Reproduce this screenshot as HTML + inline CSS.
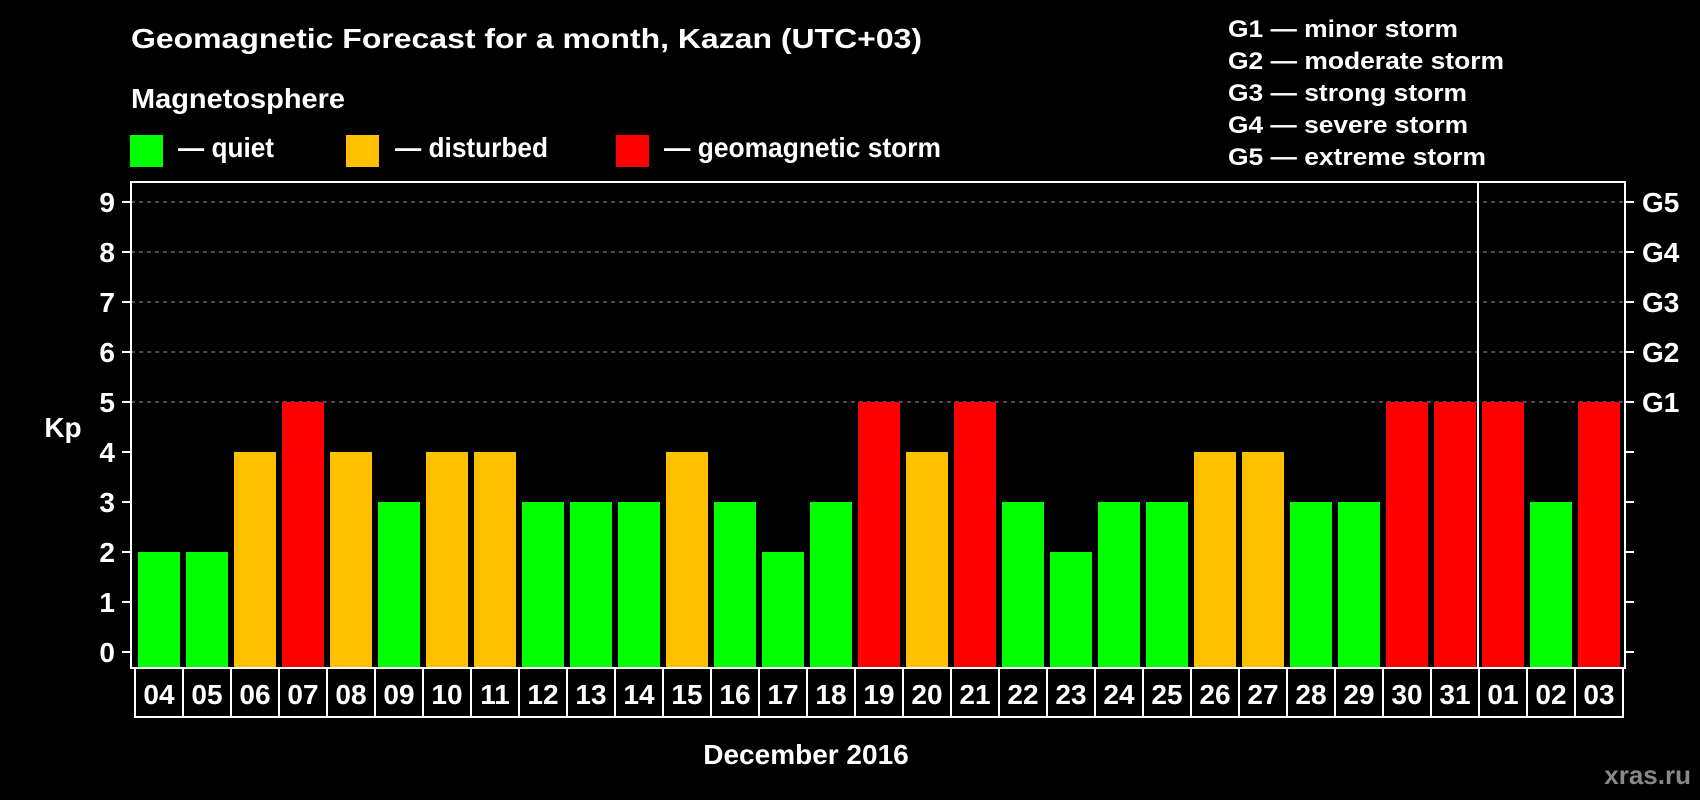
<!DOCTYPE html>
<html><head><meta charset="utf-8"><style>
html,body{margin:0;padding:0;background:#000;}
svg{display:block;font-family:"Liberation Sans",sans-serif;font-weight:bold;}
</style></head><body>
<svg id="chart" width="1700" height="800" viewBox="0 0 1700 800">
<rect x="0" y="0" width="1700" height="800" fill="#000"/>
<text x="131" y="48" fill="#fff" font-size="28" textLength="791" lengthAdjust="spacingAndGlyphs">Geomagnetic Forecast for a month, Kazan (UTC+03)</text>
<text x="131" y="108" fill="#fff" font-size="28" textLength="214" lengthAdjust="spacingAndGlyphs">Magnetosphere</text>
<g>
<rect x="130" y="135" width="33" height="32" fill="#00ff00"/>
<text x="178" y="157" fill="#fff" font-size="28" textLength="96" lengthAdjust="spacingAndGlyphs">— quiet</text></g>
<g>
<rect x="346" y="135" width="33" height="32" fill="#ffc000"/>
<text x="395" y="157" fill="#fff" font-size="28" textLength="153" lengthAdjust="spacingAndGlyphs">— disturbed</text></g>
<g>
<rect x="616" y="135" width="33" height="32" fill="#ff0000"/>
<text x="664" y="157" fill="#fff" font-size="28" textLength="277" lengthAdjust="spacingAndGlyphs">— geomagnetic storm</text></g>
<g fill="#fff" font-size="24">
<text x="1228" y="37" textLength="230" lengthAdjust="spacingAndGlyphs">G1 — minor storm</text>
<text x="1228" y="69" textLength="276" lengthAdjust="spacingAndGlyphs">G2 — moderate storm</text>
<text x="1228" y="101" textLength="239" lengthAdjust="spacingAndGlyphs">G3 — strong storm</text>
<text x="1228" y="133" textLength="240" lengthAdjust="spacingAndGlyphs">G4 — severe storm</text>
<text x="1228" y="165" textLength="258" lengthAdjust="spacingAndGlyphs">G5 — extreme storm</text>
</g>
<text x="63" y="437" fill="#fff" font-size="28" text-anchor="middle">Kp</text>
<text x="806" y="764" fill="#fff" font-size="28" text-anchor="middle">December 2016</text>
<text x="1691" y="784" fill="#888" font-size="26" text-anchor="end">xras.ru</text>
<g id="grid"></g><g id="bars"></g><g id="axes"></g>
</svg>
<script>
const days = ["04","05","06","07","08","09","10","11","12","13","14","15","16","17","18","19","20","21","22","23","24","25","26","27","28","29","30","31","01","02","03"];
const kpValues = [2,2,4,5,4,3,4,4,3,3,3,4,3,2,3,5,4,5,3,2,3,3,4,4,3,3,5,5,5,3,5];
const yTicks = [0,1,2,3,4,5,6,7,8,9];
const gLabels = ["G1","G2","G3","G4","G5"];
const gLevels = [5,6,7,8,9];
const monthBreakIndex = 28;

const NS = "http://www.w3.org/2000/svg";
const L = 131, R = 1625, T = 182, B = 668, Y0 = 652, UNIT = 50;
const PITCH = 48, BAR0 = 138, BW = 42;
function yS(v){ return Y0 - v*UNIT; }
function xS(i){ return BAR0 + i*PITCH; }
function mk(tag, attrs, parent){ const e=document.createElementNS(NS,tag); for(const k in attrs) e.setAttribute(k,attrs[k]); parent.appendChild(e); return e; }
function colorFor(v){ return v>=5 ? "#ff0000" : (v>=4 ? "#ffc000" : "#00ff00"); }

const grid = document.getElementById("grid"), bars = document.getElementById("bars"), axes = document.getElementById("axes");
gLevels.forEach((lv,i)=>{
  const ln = mk("line",{x1:L,x2:R,y1:yS(lv),y2:yS(lv),stroke:"#999","stroke-width":1,"stroke-dasharray":"4,4"},grid);
  
  
  const t = mk("text",{x:1642,y:yS(lv)+10,fill:"#fff","font-size":28},axes);
  t.textContent = gLabels[i];
  
  
});
kpValues.forEach((v,i)=>{
  const r = mk("rect",{x:xS(i),y:yS(v),width:BW,height:B-1-yS(v),fill:colorFor(v)},bars);
  
  
  const bx = xS(i)-3;
  const box = mk("rect",{x:bx,y:B,width:PITCH,height:49,fill:"none",stroke:"#fff","stroke-width":2},axes);
  
  
  const t = mk("text",{x:bx+PITCH/2,y:B+36,fill:"#fff","font-size":28,"text-anchor":"middle"},axes);
  t.textContent = days[i];
  
  
});
yTicks.forEach(v=>{
  const a = mk("line",{x1:L-9,x2:L,y1:yS(v),y2:yS(v),stroke:"#fff","stroke-width":2},axes);
  
  
  const b = mk("line",{x1:R,x2:R+9,y1:yS(v),y2:yS(v),stroke:"#fff","stroke-width":2},axes);
  
  
  const t = mk("text",{x:115,y:yS(v)+10,fill:"#fff","font-size":28,"text-anchor":"end"},axes);
  t.textContent = v;
  
  
});
const bx = xS(monthBreakIndex)-4;
const div = mk("line",{x1:bx,x2:bx,y1:T,y2:B,stroke:"#fff","stroke-width":2},axes);


const frame = mk("rect",{x:L,y:T,width:R-L,height:B-T,fill:"none",stroke:"#fff","stroke-width":2},axes);


</script>
</body></html>
